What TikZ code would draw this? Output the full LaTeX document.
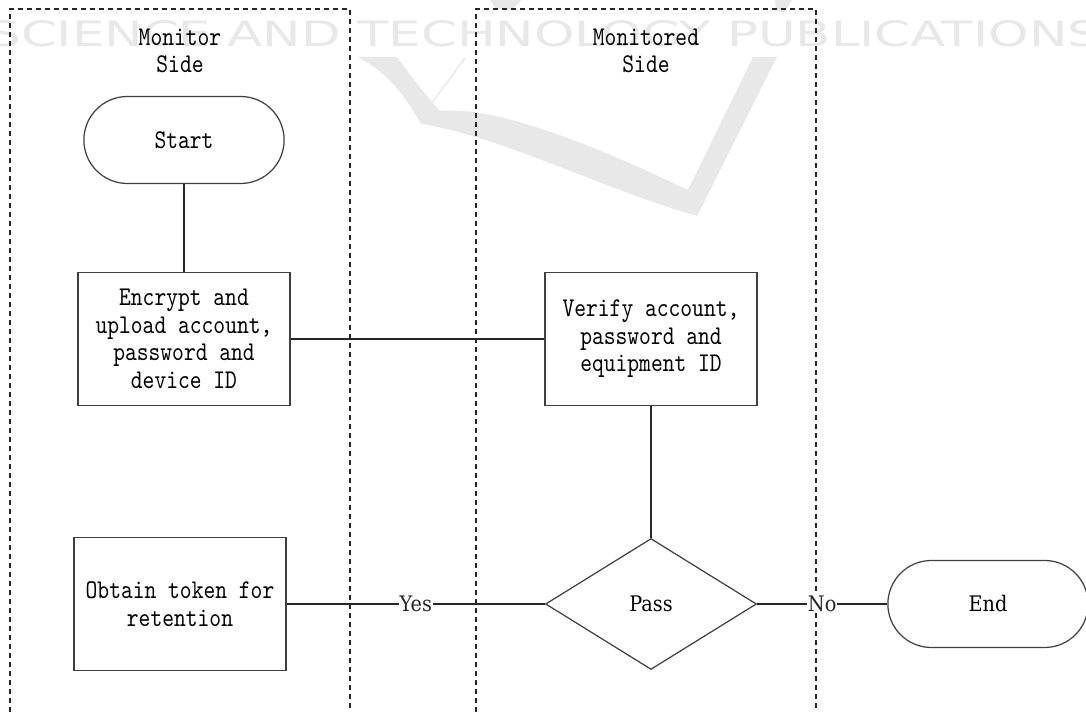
\documentclass[tikz,border=0pt]{standalone}
\usepackage{fontspec}
\usepackage{graphicx}
\usetikzlibrary{shapes.geometric, shapes.misc}

\newfontfamily\boxfamily{lmmono10-regular.otf}[FakeStretch=0.83]
\newfontfamily\passfamily[FakeStretch=0.90]{DejaVu Serif}
\newfontfamily\wmfamily{DejaVu Sans}

\tikzset{
  lane/.style={black!85, line width=0.6pt, dash pattern=on 0.11cm off 0.07cm},
  lanetitle/.style={inner sep=0pt, align=center, font=\boxfamily\fontsize{15.4pt}{15.65pt}\selectfont},
  terminal/.style={draw=black!75, line width=0.7pt, rounded rectangle, minimum width=4.24cm, minimum height=1.74cm},
  process/.style={draw=black!75, line width=0.7pt, minimum width=4.24cm, minimum height=2.65cm, align=center, inner sep=0pt, font=\boxfamily\fontsize{15.4pt}{15.65pt}\selectfont},
  decision/.style={draw=black!75, line width=0.7pt, diamond, minimum width=4.22cm, minimum height=2.62cm, inner sep=0pt, font=\passfamily\fontsize{12.2pt}{14pt}\selectfont},
  link/.style={black!85, line width=1.1pt},
  answer/.style={fill=white, inner sep=0.6pt, font=\passfamily\fontsize{12.2pt}{14pt}\selectfont},
  wmark/.style={black!9},
}

\begin{document}
\begin{tikzpicture}[x=0.02cm, y=-0.02cm]
\useasboundingbox (0,0) rectangle (1086,712);

% watermark
\node[anchor=base west, inner sep=0pt, text=black!9] (wmtext) at (-12,47)
  {\resizebox{22.24cm}{0.52cm}{\wmfamily SCIENCE AND TECHNOLOGY PUBLICATIONS}};
\fill[wmark] (357,57) -- (397,57) .. controls (410,75) and (428,98) .. (440,111)
  .. controls (500,106) and (600,148) .. (688,190) -- (753,57) -- (777,57) -- (697,216)
  .. controls (600,188) and (500,136) .. (421,124) .. controls (405,95) and (385,70) .. (357,57) -- cycle;
\draw[wmark, line width=0.8pt] (421,118) -- (465,58);
\fill[wmark] (490,0) -- (522,0) -- (512,10) -- (495,8) -- cycle;
\fill[wmark] (775,0) -- (792,0) -- (784,13) -- (776,10) -- cycle;

% lanes
\draw[lane] (10,712) -- (10,9) -- (350,9) -- (350,712);
\draw[lane] (476,712) -- (476,9) -- (816,9) -- (816,712);
\node[lanetitle] (monitor) at (180,51) {Monitor\\Side};
\node[lanetitle] (monitored) at (646,51) {Monitored\\Side};

% steps
\node[terminal, font=\boxfamily\fontsize{15.4pt}{15.65pt}\selectfont] (start) at (184,140) {Start};
\node[process] (encrypt) at (184,339) {Encrypt and\\upload account,\\password and\\device ID};
\node[process] (verify) at (651,339) {Verify account,\\password and\\equipment ID};
\node[decision] (pass) at (651,604) {Pass};
\node[process] (obtain) at (180,604) {Obtain token for\\retention};
\node[terminal, font=\passfamily\fontsize{12.2pt}{14pt}\selectfont] (end) at (988,604) {End};

% links
\draw[link] (start) -- (encrypt);
\draw[link] (encrypt) -- (verify);
\draw[link] (verify) -- (pass);
\draw[link] (pass) -- node[answer] {Yes} (obtain);
\draw[link] (pass) -- node[answer] {No} (end);
\end{tikzpicture}
\end{document}
